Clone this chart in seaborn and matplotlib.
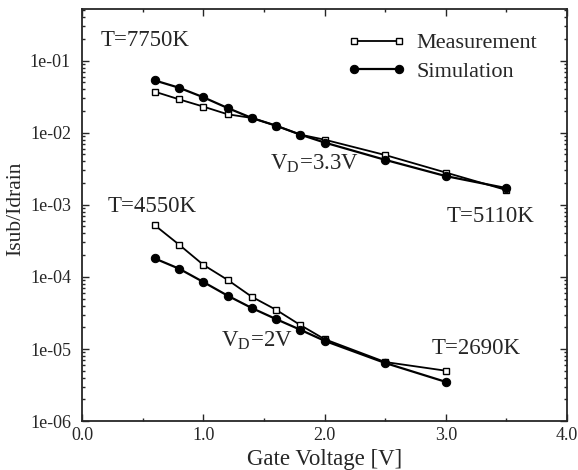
import numpy as np
import matplotlib
matplotlib.use('Agg')
import matplotlib.pyplot as plt
import matplotlib.ticker as mticker
import pandas as pd
import seaborn as sns

# gate voltages
vg_hi = [0.6, 0.8, 1.0, 1.2, 1.4, 1.6, 1.8, 2.0, 2.5, 3.0, 3.5]
vg_lo = [0.6, 0.8, 1.0, 1.2, 1.4, 1.6, 1.8, 2.0, 2.5, 3.0]

# VD = 3.3V
meas_hi = [0.037, 0.029, 0.023, 0.018, 0.016, 0.0125, 0.0094, 0.0080, 0.0049, 0.0028, 0.0016]
sim_hi = [0.053, 0.042, 0.031, 0.022, 0.016, 0.0125, 0.0094, 0.0073, 0.0042, 0.0025, 0.0017]

# VD = 2V
meas_lo = [5.2e-4, 2.8e-4, 1.47e-4, 9.1e-5, 5.3e-5, 3.5e-5, 2.15e-5, 1.37e-5, 6.6e-6, 5.0e-6]
sim_lo = [1.8e-4, 1.3e-4, 8.5e-5, 5.5e-5, 3.7e-5, 2.6e-5, 1.85e-5, 1.3e-5, 6.4e-6, 3.5e-6]

sns.set_style('ticks')
plt.rcParams['font.family'] = ['Liberation Serif', 'DejaVu Serif']
plt.rcParams['mathtext.fontset'] = 'stix'

fig = plt.figure(figsize=(5.78, 4.70), dpi=100)
ax = fig.add_axes([0.142, 0.104, 0.839, 0.877])

meas_kw = dict(marker='s', markersize=5, markerfacecolor='white', markeredgecolor='black',
               markeredgewidth=1.0, color='black', linewidth=1.3)
sim_kw = dict(marker='o', markersize=6, markerfacecolor='black', markeredgecolor='black',
              color='black', linewidth=1.6)

sns.lineplot(x=vg_hi, y=meas_hi, ax=ax, label='Measurement', **meas_kw)
sns.lineplot(x=vg_hi, y=sim_hi, ax=ax, label='Simulation', **sim_kw)
sns.lineplot(x=vg_lo, y=meas_lo, ax=ax, **meas_kw)
sns.lineplot(x=vg_lo, y=sim_lo, ax=ax, **sim_kw)

ax.set_yscale('log')
ax.set_xlim(0, 4.0)
ax.set_ylim(1e-6, 0.52)
ax.xaxis.set_major_locator(mticker.MultipleLocator(1.0))
ax.xaxis.set_minor_locator(mticker.MultipleLocator(0.5))
ax.xaxis.set_major_formatter(mticker.FormatStrFormatter('%.1f'))
ax.yaxis.set_major_locator(mticker.LogLocator(base=10, numticks=10))
ax.yaxis.set_minor_locator(mticker.LogLocator(base=10, subs=np.arange(2, 10), numticks=20))
ax.yaxis.set_major_formatter(mticker.FuncFormatter(lambda v, p: f'{v:.0e}'))
ax.yaxis.set_minor_formatter(mticker.NullFormatter())
ax.tick_params(which='both', direction='in', top=True, right=True, labelsize=13, width=1.0)
ax.tick_params(which='major', length=5)
ax.tick_params(which='minor', length=2.5)
ax.tick_params(axis='y', pad=8)
ax.tick_params(axis='x', pad=4)
for s in ax.spines.values():
    s.set_linewidth(1.3)

ax.set_xlabel('Gate Voltage [V]', fontsize=16.5)
ax.set_ylabel('Isub/Idrain', fontsize=15.5)
ax.xaxis.set_label_coords(0.5, -0.068)
ax.yaxis.set_label_coords(-0.1175, 0.515)

tk = dict(fontsize=16.5, ha='left', va='center')
ax.text(0.15, 0.19, 'T=7750K', **tk)
ax.text(1.55, 0.0038, r'V$_\mathregular{D}$=3.3V', **tk)
ax.text(3.01, 6.8e-4, 'T=5110K', **tk)
ax.text(0.21, 9.6e-4, 'T=4550K', **tk)
ax.text(1.15, 1.33e-5, r'V$_\mathregular{D}$=2V', **tk)
ax.text(2.88, 1.03e-5, 'T=2690K', **tk)

ax.legend(loc='upper left', bbox_to_anchor=(0.548, 0.942), frameon=False, fontsize=16,
          handlelength=2.6, numpoints=2, labelspacing=0.35, handletextpad=0.5,
          borderaxespad=0, borderpad=0)

fig.savefig('out.png', dpi=100)
